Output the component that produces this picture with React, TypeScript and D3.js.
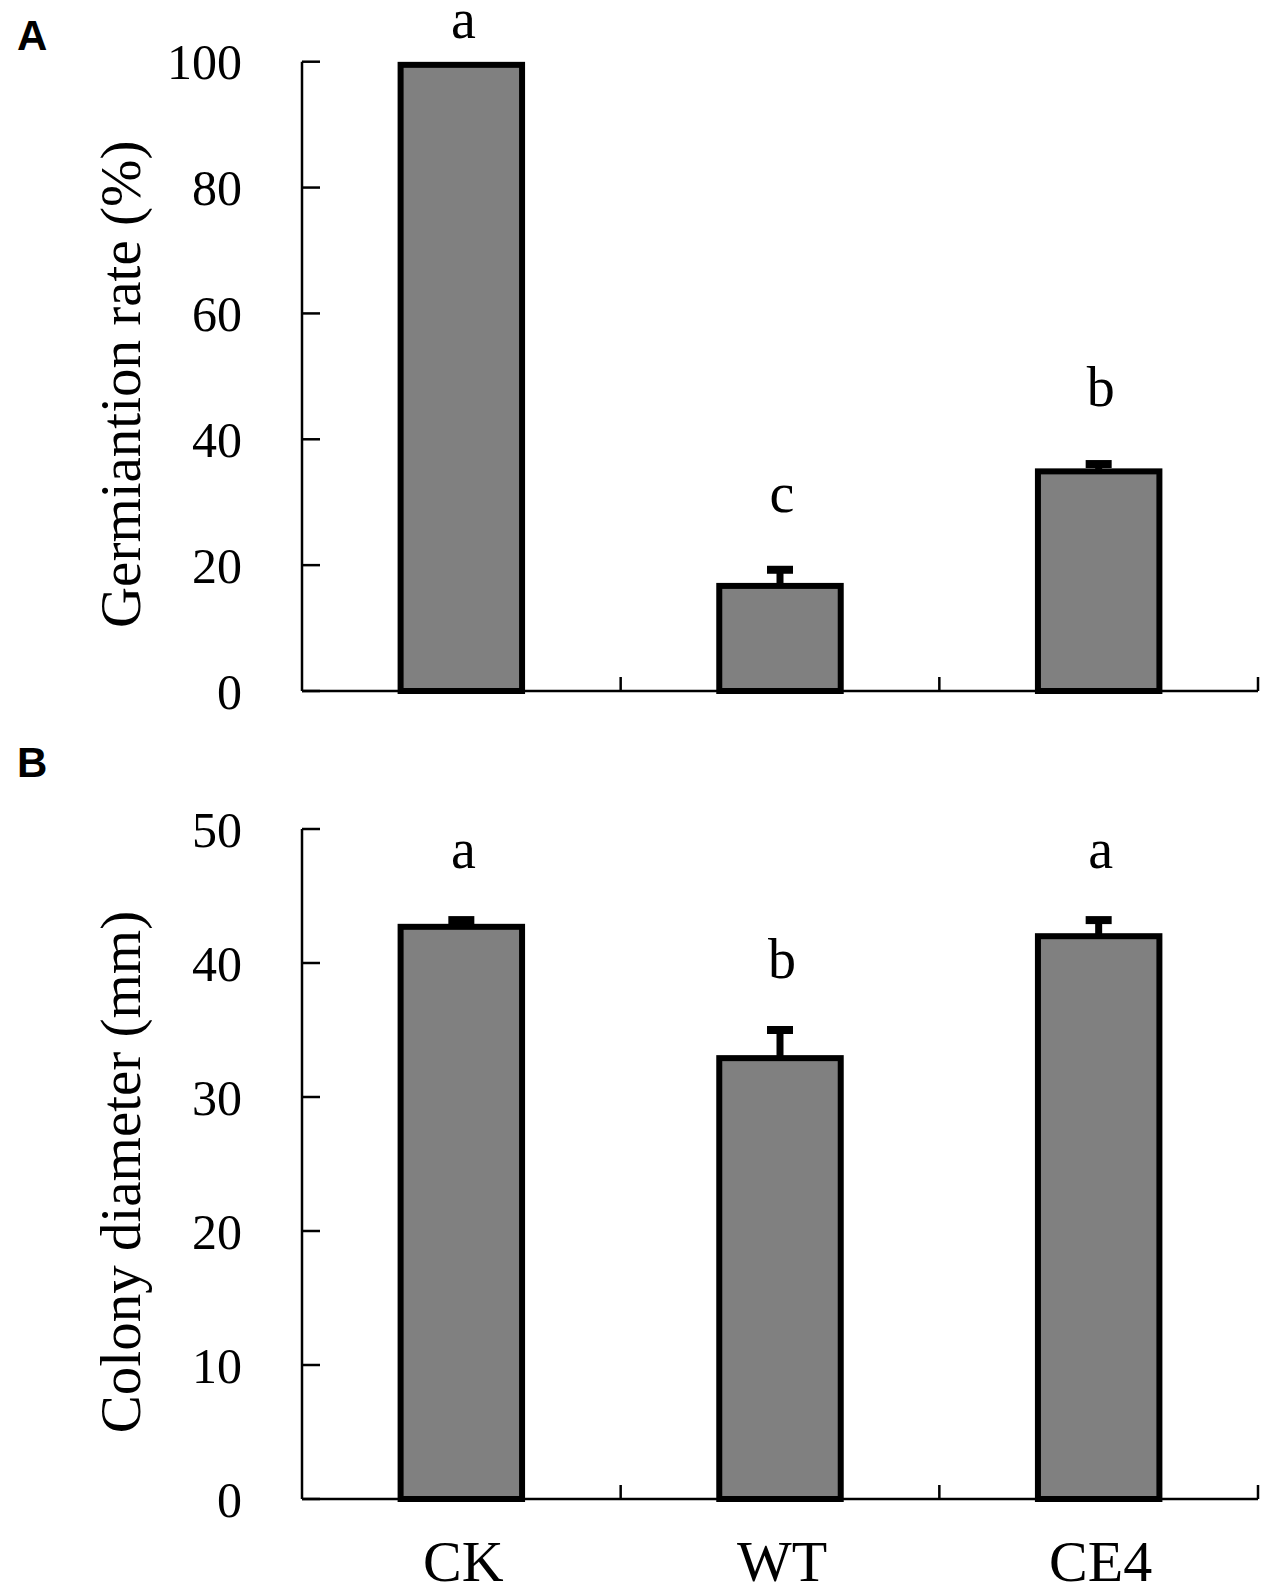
import React from 'react';
import * as d3 from 'd3';

// categories shared by both panels
const categories = ['CK', 'WT', 'CE4'];

// panel A: germination rate (%)
const germRate = [99.5, 16.7, 34.9];
const germErr = [0.4, 3.2, 1.8];
const germLetters = ['a', 'c', 'b'];
const germTicks = [0, 20, 40, 60, 80, 100];

// panel B: colony diameter (mm)
const colonyDiam = [42.7, 32.9, 42.0];
const colonyErr = [0.8, 2.4, 1.5];
const colonyLetters = ['a', 'b', 'a'];
const colonyTicks = [0, 10, 20, 30, 40, 50];

const W = 1267;
const H = 1594;
const serif = '"Liberation Serif", "Times New Roman", serif';

interface PanelProps {
  label: string;
  yLabel: string;
  values: number[];
  errors: number[];
  letters: string[];
  ticks: number[];
  yMax: number;
  top: number;     // pixel of yMax
  bottom: number;  // pixel of 0
  labelY: number;  // baseline of the panel letter
  letterGap: number;
}

const x = d3.scaleBand<string>().domain(categories).range([302, 1258]).padding(0);
const barW = x.bandwidth() * 0.4;

const Panel: React.FC<PanelProps> = ({ label, yLabel, values, errors, letters, ticks, yMax, top, bottom, labelY, letterGap }) => {
  const y = d3.scaleLinear().domain([0, yMax]).range([bottom, top]);
  const x0 = x.range()[0];
  const x1 = x.range()[1];
  return (
    <g>
      <text x={17} y={labelY} fontFamily='"Liberation Sans", Arial, sans-serif' fontWeight="bold" fontSize={42}>{label}</text>

      {/* y axis */}
      <line x1={x0} x2={x0} y1={y(yMax)} y2={y(0)} stroke="#000" strokeWidth={2.5} />
      {ticks.map(t => (
        <g key={t}>
          <line x1={x0} x2={x0 + 18} y1={y(t)} y2={y(t)} stroke="#000" strokeWidth={2.5} />
          <text x={242} y={y(t)} dy="0.35em" textAnchor="end" fontFamily={serif} fontSize={50}>{t}</text>
        </g>
      ))}
      <text
        transform={`translate(140, ${(y(0) + y(yMax)) / 2 + 8}) rotate(-90)`}
        textAnchor="middle" fontFamily={serif} fontSize={57}
      >{yLabel}</text>

      {/* bars */}
      {categories.map((c, i) => {
        const cx = (x(c) as number) + x.bandwidth() / 2;
        const errTop = y(values[i] + errors[i]);
        return (
          <g key={c}>
            <line x1={cx} x2={cx} y1={y(values[i])} y2={errTop + 4} stroke="#000" strokeWidth={7} />
            <line x1={cx - 13} x2={cx + 13} y1={errTop + 4} y2={errTop + 4} stroke="#000" strokeWidth={8} />
            <rect
              x={cx - barW / 2 + 3} y={y(values[i])}
              width={barW - 6} height={y(0) - y(values[i])}
              fill="#808080" stroke="#000" strokeWidth={6}
            />
            <text x={cx + 2} y={Math.max(errTop - letterGap, 38)} textAnchor="middle" fontFamily={serif} fontSize={56}>{letters[i]}</text>
          </g>
        );
      })}

      {/* x axis */}
      <line x1={x0} x2={x1} y1={y(0)} y2={y(0)} stroke="#000" strokeWidth={2.5} />
      {categories.map(c => {
        const bx = (x(c) as number) + x.bandwidth();
        return <line key={c} x1={bx} x2={bx} y1={y(0)} y2={y(0) - 14} stroke="#000" strokeWidth={2.5} />;
      })}
    </g>
  );
};

export default function App() {
  return (
    <div style={{ position: 'absolute', left: 0, top: 0 }}>
      <svg width={W} height={H} style={{ display: 'block', background: '#fff' }}>
        <Panel
          label="A" yLabel="Germiantion rate (%)"
          values={germRate} errors={germErr} letters={germLetters}
          ticks={germTicks} yMax={100} top={61.7} bottom={691} labelY={50} letterGap={54}
        />
        <Panel
          label="B" yLabel="Colony diameter (mm)"
          values={colonyDiam} errors={colonyErr} letters={colonyLetters}
          ticks={colonyTicks} yMax={50} top={829} bottom={1499} labelY={777} letterGap={48}
        />
        {categories.map(c => (
          <text key={c} x={(x(c) as number) + x.bandwidth() / 2 + 2} y={1581}
            textAnchor="middle" fontFamily={serif} fontSize={58}>{c}</text>
        ))}
      </svg>
    </div>
  );
}
